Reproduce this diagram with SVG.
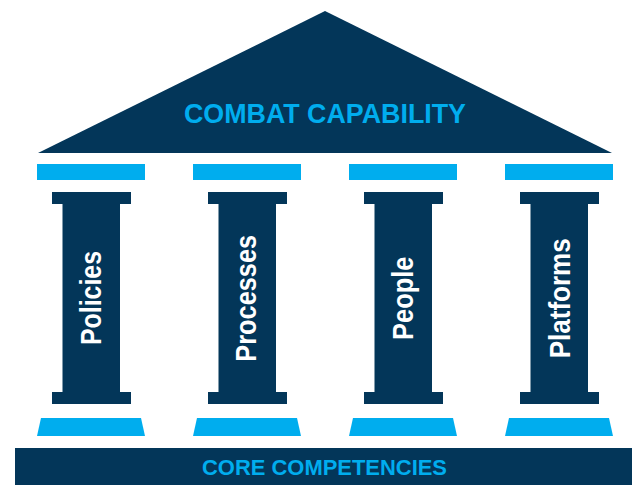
<svg xmlns="http://www.w3.org/2000/svg" xmlns:xlink="http://www.w3.org/1999/xlink" width="637" height="485" viewBox="0 0 637 485">
  <style>
    .navy { fill: #033659; }
    .sky { fill: #00ADEE; }
    .title { font-family: "Liberation Sans", Arial, sans-serif; font-weight: bold; fill: #00ADEE; text-anchor: middle; }
    .label { font-family: "Liberation Sans", Arial, sans-serif; font-weight: bold; font-size: 29px; fill: #FFFFFF; text-anchor: middle; }
  </style>
  <defs>
    <!-- one column: lintel, capital, shaft, foot and plinth (drawn at x offset 0) -->
    <g id="column">
      <rect class="sky" x="37" y="164" width="108" height="16"/>
      <rect class="navy" x="52" y="192" width="79" height="12"/>
      <rect class="navy" x="62.5" y="203" width="57.5" height="190"/>
      <rect class="navy" x="52" y="392" width="79" height="12"/>
      <polygon class="sky" points="41,418 141,418 145,436 37,436"/>
    </g>
  </defs>

  <!-- roof -->
  <g id="roof">
    <polygon class="navy" points="325,11 612,153 38,153"/>
    <text class="title" x="325" y="123.3" font-size="27" textLength="282" lengthAdjust="spacingAndGlyphs">COMBAT CAPABILITY</text>
  </g>

  <!-- columns -->
  <g id="pillar-policies">
    <use xlink:href="#column"/>
    <text class="label" transform="translate(100.7,298) rotate(-90)" textLength="94" lengthAdjust="spacingAndGlyphs">Policies</text>
  </g>
  <g id="pillar-processes">
    <use xlink:href="#column" x="156"/>
    <text class="label" transform="translate(256,298.3) rotate(-90)" textLength="126.7" lengthAdjust="spacingAndGlyphs">Processes</text>
  </g>
  <g id="pillar-people">
    <use xlink:href="#column" x="312"/>
    <text class="label" transform="translate(413.3,298.3) rotate(-90)" textLength="83.3" lengthAdjust="spacingAndGlyphs">People</text>
  </g>
  <g id="pillar-platforms">
    <use xlink:href="#column" x="468"/>
    <text class="label" transform="translate(570,298.3) rotate(-90)" textLength="120" lengthAdjust="spacingAndGlyphs">Platforms</text>
  </g>

  <!-- foundation -->
  <g id="foundation">
    <rect class="navy" x="15" y="448" width="617" height="37"/>
    <text class="title" x="324.5" y="474.7" font-size="21.5" textLength="245" lengthAdjust="spacingAndGlyphs">CORE COMPETENCIES</text>
  </g>
</svg>
